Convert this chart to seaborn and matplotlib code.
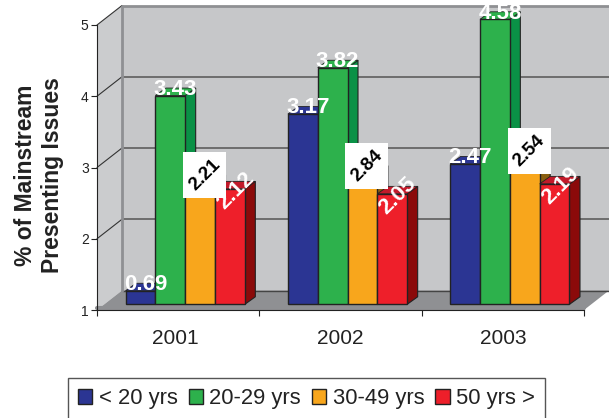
import numpy as np
import pandas as pd
import matplotlib
matplotlib.use("Agg")
import matplotlib.pyplot as plt
from matplotlib.patches import Polygon, Rectangle
import seaborn as sns

years = ["2001", "2002", "2003"]
groups = ["< 20 yrs", "20-29 yrs", "30-49 yrs", "50 yrs >"]
under_20 = [0.69, 3.17, 2.47]
age_20_29 = [3.43, 3.82, 4.58]
age_30_49 = [2.21, 2.34, 2.54]
age_50_up = [2.12, 2.05, 2.19]
label_texts = [["0.69", "3.17", "2.47"], ["3.43", "3.82", "4.58"],
               ["2.21", "2.84", "2.54"], ["2.12", "2.05", "2.19"]]
colors = ["#2b3593", "#2db14c", "#f8a61c", "#ee1f2a"]
side_colors = ["#1a2060", "#0a9146", "#8a5f10", "#8b0a0a"]
top_colors = ["#2b3593", "#2db14c", "#c98512", "#c21a2a"]
yticks = [1, 2, 3, 4, 5]

sns.set_style("white")
plt.rcParams["font.family"] = ["Liberation Sans", "DejaVu Sans"]

rows = []
for g, vals in zip(groups, [under_20, age_20_29, age_30_49, age_50_up]):
    for y, v in zip(years, vals):
        rows.append({"year": y, "group": g, "value": v})
df = pd.DataFrame(rows)
# the chart draws bars 0.5 above the printed value, from a floor set in the 3D box
BASE = 1.08
df["height"] = np.minimum(df["value"] + 0.58, 5.08) - BASE

fig = plt.figure(figsize=(6.09, 4.18), dpi=100)
ax = fig.add_axes([97 / 609, 108 / 418, 487 / 609, 285 / 418])
sns.barplot(data=df, x="year", y="height", hue="group", hue_order=groups,
            order=years, palette=colors, saturation=1, width=0.735, gap=0,
            bottom=BASE, edgecolor="#222222", linewidth=1, ax=ax, legend=False)
ax.set_xlim(-0.5, 2.5)
ax.set_ylim(1, 5)
ax.patch.set_alpha(0)

ux, uy = 162.33, 71.25           # pixels per data unit
DX, DY = 25 / ux, 19.5 / uy      # depth of the box
BX, BY = 10.5 / ux, 7.5 / uy     # depth of a bar
SHIFT = 7 / ux

wall, floor, grid = "#c6c7c9", "#8f9093", "#666666"
x0, x1, y0, y1 = -0.5, 2.5, 1, 5
ax.add_patch(Polygon([(x0 + DX, y0 + DY), (x1 + DX, y0 + DY), (x1 + DX, y1 + DY), (x0 + DX, y1 + DY)],
                     fc=wall, ec="none", clip_on=False, zorder=0.1))
ax.add_patch(Polygon([(x0, y0), (x0 + DX, y0 + DY), (x0 + DX, y1 + DY), (x0, y1)],
                     fc="#cbccce", ec="none", clip_on=False, zorder=0.1))
ax.add_patch(Polygon([(x0, y0), (x1, y0), (x1 + DX, y0 + DY), (x0 + DX, y0 + DY)],
                     fc=floor, ec="none", clip_on=False, zorder=0.2))
for t in yticks:
    if t > 1:
        ax.plot([x0 + DX, x1 + DX], [t + DY, t + DY], color=floor if t == 5 else grid,
                lw=2 if t == 5 else 1.3, clip_on=False, zorder=0.3, solid_capstyle="butt")
        ax.plot([x0, x0 + DX], [t, t + DY], color="#333333", lw=0.8, clip_on=False, zorder=0.3)
ax.plot([x0 + DX, x1 + DX], [y0 + DY, y0 + DY], color="#444444", lw=1, clip_on=False, zorder=0.3)
ax.plot([x0 + DX, x0 + DX], [y0 + DY, y1 + DY], color=floor, lw=2, clip_on=False, zorder=0.3)
ax.plot([x0, x1], [1.03, 1.03], color=floor, lw=3, zorder=0.4, clip_on=False)

for gi, cont in enumerate(ax.containers):
    for yi, p in enumerate(cont.patches):
        p.set_x(p.get_x() + SHIFT)
        x, y, w, h = p.get_x(), p.get_y(), p.get_width(), p.get_height()
        z = 2 + gi
        p.set_zorder(z + 0.2)
        p.set_clip_on(False)
        ax.add_patch(Polygon([(x + w, y), (x + w + BX, y + BY), (x + w + BX, y + h + BY), (x + w, y + h)],
                             fc=side_colors[gi], ec="#222222", lw=0.8, clip_on=False, zorder=z))
        ax.add_patch(Polygon([(x, y + h), (x + BX, y + h + BY), (x + w + BX, y + h + BY), (x + w, y + h)],
                             fc=top_colors[gi], ec="#222222", lw=0.6, clip_on=False, zorder=z + 0.1))
        cx, top = x + w / 2, y + h
        txt = label_texts[gi][yi]
        if gi < 2:
            ax.annotate(txt, (cx, top), xytext=(3.6, 4.5), textcoords="offset points", ha="center",
                        va="center", color="white", fontweight="bold", fontsize=16, zorder=20,
                        annotation_clip=False)
        elif gi == 2:
            bxc, byc = cx + 4.5 / ux, top + 7.5 / uy
            bw, bh = 43 / ux, 46 / uy
            ax.add_patch(Rectangle((bxc - bw / 2, byc - bh / 2), bw, bh, fc="white", ec="none",
                                   zorder=18, clip_on=False))
            ax.text(bxc, byc, txt, rotation=45, ha="center", va="center", rotation_mode="anchor",
                    color="black", fontweight="bold", fontsize=13.5, zorder=19)
        else:
            ax.annotate(txt, (cx, top), xytext=(4.2, -1.4), textcoords="offset points", ha="center",
                        va="center", rotation=45, rotation_mode="anchor", color="white",
                        fontweight="bold", fontsize=16, zorder=20, annotation_clip=False)

for s in ["top", "right"]:
    ax.spines[s].set_visible(False)
for s in ["left", "bottom"]:
    ax.spines[s].set_visible(True)
    ax.spines[s].set_color("#222222")
    ax.spines[s].set_linewidth(0.8)
    ax.spines[s].set_zorder(0.5)
ax.set_yticks(yticks)
ax.set_yticklabels([str(t) for t in yticks], fontsize=10, color="#222222")
ax.set_xticks([-0.5, 0.5, 1.5, 2.5])
ax.set_xticklabels([])
ax.set_xticks([-0.015, 1, 2], minor=True)
ax.set_xticklabels(years, minor=True, fontsize=15, color="#222222")
ax.tick_params(axis="x", which="major", length=4, width=0.8, color="#222222", bottom=True)
ax.tick_params(axis="x", which="minor", length=0, pad=14)
ax.tick_params(axis="y", length=4, width=0.8, color="#222222", left=True, pad=2)
ax.set_xlabel("")
ax.set_ylabel("")
fig.text(39 / 609, 1 - 175 / 418, "% of Mainstream\nPresenting Issues", rotation=90, ha="center",
         va="center", fontsize=16.5, fontweight="bold", color="#222222", linespacing=1.25,
         multialignment="center")

handles = [Rectangle((0, 0), 1, 1, fc=c, ec="#222222", lw=1) for c in colors]
leg = fig.legend(handles, groups, loc="lower left", bbox_to_anchor=(68 / 609, 1 - 419 / 418),
                 bbox_transform=fig.transFigure, ncol=4, frameon=True, fancybox=False,
                 edgecolor="#555555", framealpha=1, fontsize=15.8, handlelength=0.65, handleheight=0.65,
                 handletextpad=0.3, columnspacing=0.5, borderaxespad=0, borderpad=0.45,
                 labelcolor="#222222")
leg.get_frame().set_linewidth(1)
fig.savefig("out.png", dpi=100)
